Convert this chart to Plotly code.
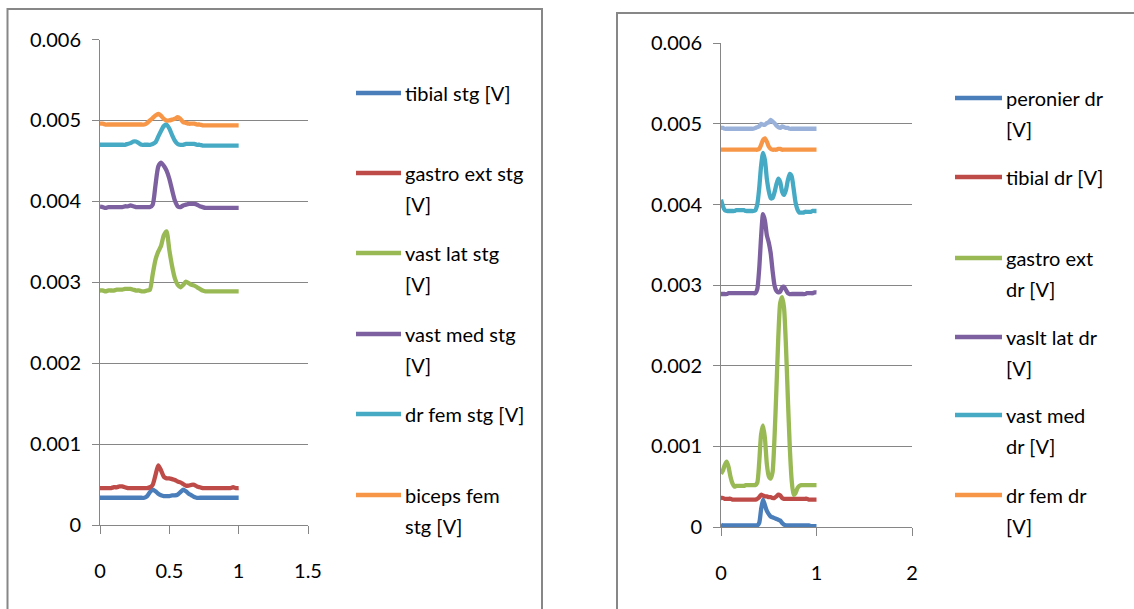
import plotly.graph_objects as go

# ---------------- data ----------------
x = [0.00, 0.02, 0.04, 0.06, 0.08, 0.10, 0.12, 0.14, 0.16, 0.18,
     0.20, 0.22, 0.24, 0.26, 0.28, 0.30, 0.32, 0.34, 0.36, 0.38,
     0.40, 0.42, 0.44, 0.46, 0.48, 0.50, 0.52, 0.54, 0.56, 0.58,
     0.60, 0.62, 0.64, 0.66, 0.68, 0.70, 0.72, 0.74, 0.76, 0.78,
     0.80, 0.82, 0.84, 0.86, 0.88, 0.90, 0.92, 0.94, 0.96, 0.98, 1.00]

# left chart (stg)
tibial_stg = [0.00034, 0.00034, 0.00034, 0.00034, 0.00034, 0.00034, 0.00034, 0.00034, 0.00034, 0.00034,
              0.00034, 0.00034, 0.00034, 0.00034, 0.00034, 0.00034, 0.00034, 0.00036, 0.00041, 0.00044,
              0.00042, 0.00039, 0.00037, 0.00036, 0.00036, 0.00036, 0.00037, 0.00037, 0.00038, 0.00041,
              0.00044, 0.00042, 0.00039, 0.00037, 0.00035, 0.00034, 0.00034, 0.00034, 0.00034, 0.00034,
              0.00034, 0.00034, 0.00034, 0.00034, 0.00034, 0.00034, 0.00034, 0.00034, 0.00034, 0.00034, 0.00034]
gastro_ext_stg = [0.00046, 0.00046, 0.00046, 0.00046, 0.00046, 0.00047, 0.00047, 0.00048, 0.00048, 0.00047,
                  0.00046, 0.00046, 0.00046, 0.00046, 0.00046, 0.00046, 0.00046, 0.00046, 0.00047, 0.00050,
                  0.00062, 0.00074, 0.00068, 0.00060, 0.00058, 0.00058, 0.00057, 0.00056, 0.00054, 0.00053,
                  0.00051, 0.00049, 0.00049, 0.00050, 0.00050, 0.00048, 0.00047, 0.00046, 0.00046, 0.00046,
                  0.00046, 0.00046, 0.00046, 0.00046, 0.00046, 0.00046, 0.00046, 0.00046, 0.00047, 0.00046, 0.00046]
vast_lat_stg = [0.00290, 0.00290, 0.00289, 0.00290, 0.00290, 0.00290, 0.00291, 0.00291, 0.00291, 0.00292,
                0.00292, 0.00292, 0.00291, 0.00290, 0.00290, 0.00289, 0.00289, 0.00290, 0.00291, 0.00310,
                0.00328, 0.00338, 0.00345, 0.00358, 0.00363, 0.00340, 0.00320, 0.00305, 0.00297, 0.00294,
                0.00297, 0.00301, 0.00299, 0.00297, 0.00296, 0.00294, 0.00292, 0.00290, 0.00289, 0.00289,
                0.00289, 0.00289, 0.00289, 0.00289, 0.00289, 0.00289, 0.00289, 0.00289, 0.00289, 0.00289, 0.00289]
vast_med_stg = [0.003935, 0.00393, 0.00392, 0.00393, 0.00393, 0.00393, 0.00393, 0.00393, 0.00393, 0.00394,
                0.00394, 0.00395, 0.00394, 0.00393, 0.00393, 0.00393, 0.00393, 0.00393, 0.00393, 0.00396,
                0.00420, 0.00443, 0.00448, 0.00444, 0.00438, 0.00428, 0.00414, 0.00401, 0.00394, 0.00393,
                0.00395, 0.00396, 0.00397, 0.00397, 0.00397, 0.00396, 0.00394, 0.00393, 0.00392, 0.00392,
                0.00392, 0.00392, 0.00392, 0.00392, 0.00392, 0.00392, 0.00392, 0.00392, 0.00392, 0.00392, 0.00392]
dr_fem_stg = [0.00470, 0.00470, 0.00470, 0.00470, 0.00470, 0.00470, 0.00470, 0.00470, 0.00470, 0.00470,
              0.00471, 0.00472, 0.00474, 0.00474, 0.00472, 0.00470, 0.00470, 0.00470, 0.00470, 0.00471,
              0.00473, 0.00480, 0.00487, 0.00493, 0.00495, 0.00490, 0.00482, 0.00475, 0.00471, 0.00470,
              0.00470, 0.00471, 0.00471, 0.00471, 0.00471, 0.00470, 0.00470, 0.00469, 0.00469, 0.00469,
              0.00469, 0.00469, 0.00469, 0.00469, 0.00469, 0.00469, 0.00469, 0.00469, 0.00469, 0.00469, 0.00469]
biceps_fem_stg = [0.00496, 0.00496, 0.00495, 0.00495, 0.00495, 0.00495, 0.00495, 0.00495, 0.00495, 0.00495,
                  0.00495, 0.00495, 0.00495, 0.00495, 0.00495, 0.00495, 0.00495, 0.00497, 0.00500, 0.00503,
                  0.00506, 0.00508, 0.00506, 0.00502, 0.00500, 0.00500, 0.00501, 0.00502, 0.00504, 0.00502,
                  0.00498, 0.00497, 0.00496, 0.00496, 0.00496, 0.00495, 0.00495, 0.00494, 0.00494, 0.00494,
                  0.00494, 0.00494, 0.00494, 0.00494, 0.00494, 0.00494, 0.00494, 0.00494, 0.00494, 0.00494, 0.00494]

# right chart (dr)
peronier_dr = [0.00003, 0.00002, 0.00002, 0.00002, 0.00002, 0.00002, 0.00002, 0.00002, 0.00002, 0.00002,
               0.00002, 0.00002, 0.00002, 0.00002, 0.00002, 0.00002, 0.00002, 0.00002, 0.00002, 0.00002,
               0.00005, 0.00022, 0.00034, 0.00027, 0.00020, 0.00016, 0.00013, 0.00012, 0.00011, 0.00010,
               0.00009, 0.00008, 0.00005, 0.00003, 0.00002, 0.00002, 0.00002, 0.00002, 0.00002, 0.00002,
               0.00002, 0.00002, 0.00002, 0.00002, 0.00002, 0.00002, 0.00002, 0.00001, 0.00001, 0.00001, 0.00001]
tibial_dr = [0.00036, 0.00036, 0.00035, 0.00035, 0.00035, 0.00035, 0.00034, 0.00034, 0.00034, 0.00034,
             0.00034, 0.00034, 0.00034, 0.00034, 0.00034, 0.00034, 0.00034, 0.00034, 0.00034, 0.00035,
             0.00037, 0.00040, 0.00039, 0.00038, 0.00038, 0.00037, 0.00037, 0.00036, 0.00036, 0.00038,
             0.00040, 0.00039, 0.00036, 0.00035, 0.00035, 0.00035, 0.00035, 0.00035, 0.00035, 0.00035,
             0.00035, 0.00035, 0.00035, 0.00035, 0.00035, 0.00035, 0.00034, 0.00034, 0.00034, 0.00034, 0.00034]
gastro_ext_dr = [0.00066, 0.00070, 0.00077, 0.00081, 0.00074, 0.00062, 0.00054, 0.00050, 0.00051, 0.00051,
                 0.00051, 0.00051, 0.00051, 0.00052, 0.00052, 0.00052, 0.00052, 0.00052, 0.00052, 0.00055,
                 0.00080, 0.00115, 0.00126, 0.00110, 0.00078, 0.00063, 0.00060, 0.00068, 0.00110, 0.00170,
                 0.00235, 0.00278, 0.00285, 0.00272, 0.00225, 0.00160, 0.00100, 0.00058, 0.00040, 0.00042,
                 0.00048, 0.00051, 0.00052, 0.00052, 0.00052, 0.00052, 0.00052, 0.00052, 0.00052, 0.00052, 0.00052]
vaslt_lat_dr = [0.00289, 0.00289, 0.00289, 0.00289, 0.00290, 0.00290, 0.00290, 0.00290, 0.00290, 0.00290,
                0.00290, 0.00290, 0.00290, 0.00290, 0.00290, 0.00290, 0.00290, 0.00290, 0.00290, 0.00295,
                0.00320, 0.00360, 0.00388, 0.00380, 0.00362, 0.00353, 0.00340, 0.00318, 0.00300, 0.00293,
                0.00291, 0.00292, 0.00297, 0.00298, 0.00294, 0.00290, 0.00289, 0.00289, 0.00289, 0.00289,
                0.00289, 0.00289, 0.00289, 0.00289, 0.00289, 0.00290, 0.00290, 0.00290, 0.00290, 0.00291, 0.00291]
vast_med_dr = [0.00406, 0.00398, 0.00393, 0.00392, 0.00392, 0.00392, 0.00392, 0.00392, 0.00393, 0.00393,
               0.00393, 0.00393, 0.00393, 0.00392, 0.00392, 0.00392, 0.00392, 0.00392, 0.00393, 0.00400,
               0.00420, 0.00448, 0.00464, 0.00455, 0.00432, 0.00417, 0.00408, 0.00408, 0.00415, 0.00425,
               0.00432, 0.00428, 0.00416, 0.00412, 0.00418, 0.00430, 0.00438, 0.00435, 0.00420, 0.00403,
               0.00394, 0.00390, 0.00390, 0.00390, 0.00391, 0.00391, 0.00391, 0.00391, 0.00392, 0.00392, 0.00392]
dr_fem_dr = [0.00468, 0.00468, 0.00468, 0.00468, 0.00468, 0.00468, 0.00468, 0.00468, 0.00468, 0.00468,
             0.00468, 0.00468, 0.00468, 0.00468, 0.00468, 0.00468, 0.00468, 0.00468, 0.00468, 0.00468,
             0.00469, 0.00474, 0.00480, 0.00482, 0.00478, 0.00472, 0.00469, 0.00468, 0.00468, 0.00468,
             0.00469, 0.00469, 0.00468, 0.00468, 0.00468, 0.00468, 0.00468, 0.00468, 0.00468, 0.00468,
             0.00468, 0.00468, 0.00468, 0.00468, 0.00468, 0.00468, 0.00468, 0.00468, 0.00468, 0.00468, 0.00468]
series7_dr = [0.00495, 0.00495, 0.00494, 0.00494, 0.00494, 0.00494, 0.00494, 0.00494, 0.00494, 0.00494,
              0.00494, 0.00494, 0.00494, 0.00494, 0.00494, 0.00494, 0.00494, 0.00494, 0.00495, 0.00496,
              0.00497, 0.00500, 0.00499, 0.00499, 0.00501, 0.00502, 0.00505, 0.00503, 0.00501, 0.00498,
              0.00496, 0.00495, 0.00497, 0.00496, 0.00495, 0.00495, 0.00494, 0.00494, 0.00494, 0.00494,
              0.00494, 0.00494, 0.00494, 0.00494, 0.00494, 0.00494, 0.00494, 0.00494, 0.00494, 0.00494, 0.00494]

left_names = ["tibial stg [V]", "gastro ext stg [V]", "vast lat stg [V]",
              "vast med stg [V]", "dr fem stg [V]", "biceps fem stg [V]"]
left_legend_lines = [["tibial stg [V]"], ["gastro ext stg", "[V]"], ["vast lat stg", "[V]"],
                     ["vast med stg", "[V]"], ["dr fem stg [V]"], ["biceps fem", "stg [V]"]]
right_names = ["peronier dr [V]", "tibial dr [V]", "gastro ext dr [V]",
               "vaslt lat dr [V]", "vast med dr [V]", "dr fem dr [V]"]
right_legend_lines = [["peronier dr", "[V]"], ["tibial dr [V]"], ["gastro ext", "dr [V]"],
                      ["vaslt lat dr", "[V]"], ["vast med", "dr [V]"], ["dr fem dr", "[V]"]]

y_tickvals = [0, 0.001, 0.002, 0.003, 0.004, 0.005, 0.006]
y_ticktext = ["0", "0.001", "0.002", "0.003", "0.004", "0.005", "0.006"]
left_x_tickvals = [0, 0.5, 1, 1.5]
left_x_ticktext = ["0", "0.5", "1", "1.5"]
right_x_tickvals = [0, 1, 2]
right_x_ticktext = ["0", "1", "2"]

# ---------------- styling ----------------
W, H = 1134, 609
colors = ["#4A7EBB", "#BE4B48", "#98B954", "#7D60A0", "#46AAC5", "#F79646"]
color7 = "#9AB2DA"
FONT = "Lato"
AX = "#868686"
LW = 4.3

def px(v):
    return v / W

def py(v):
    return 1 - v / H

fig = go.Figure()

left_series = [tibial_stg, gastro_ext_stg, vast_lat_stg, vast_med_stg, dr_fem_stg, biceps_fem_stg]
right_series = [peronier_dr, tibial_dr, gastro_ext_dr, vaslt_lat_dr, vast_med_dr, dr_fem_dr]

for name, ys, c in zip(left_names, left_series, colors):
    fig.add_trace(go.Scatter(x=x, y=ys, name=name, mode="lines",
                             line=dict(color=c, width=LW, shape="spline", smoothing=0.6),
                             xaxis="x", yaxis="y", showlegend=False))

fig.add_trace(go.Scatter(x=x, y=series7_dr, name="series 7", mode="lines",
                         line=dict(color=color7, width=LW, shape="spline", smoothing=0.6),
                         xaxis="x2", yaxis="y2", showlegend=False))
for name, ys, c in zip(right_names, right_series, colors):
    fig.add_trace(go.Scatter(x=x, y=ys, name=name, mode="lines",
                             line=dict(color=c, width=LW, shape="spline", smoothing=0.6),
                             xaxis="x2", yaxis="y2", showlegend=False))

axis_font = dict(family=FONT, size=20, color="#000000")
common_x = dict(showgrid=False, showline=True, linecolor=AX, linewidth=1,
                ticks="outside", ticklen=8, tickcolor=AX, tickfont=axis_font,
                ticklabelstandoff=20, zeroline=False, fixedrange=True, automargin=False)
common_y = dict(showgrid=True, gridcolor=AX, gridwidth=1, showline=True, linecolor=AX,
                linewidth=1, ticks="outside", ticklen=7, tickcolor=AX, tickfont=axis_font,
                ticklabelstandoff=7, zeroline=False, range=[0, 0.006],
                tickvals=y_tickvals, ticktext=y_ticktext, fixedrange=True, automargin=False)

fig.update_layout(
    template="none",
    width=W, height=H,
    margin=dict(l=0, r=0, t=0, b=0, autoexpand=False),
    paper_bgcolor="white", plot_bgcolor="white",
    showlegend=False,
    xaxis=dict(domain=[px(100), px(308)], range=[0, 1.5], anchor="y",
               tickvals=left_x_tickvals, ticktext=left_x_ticktext, **common_x),
    yaxis=dict(domain=[py(525.3), py(39.5)], anchor="x", **common_y),
    xaxis2=dict(domain=[px(721), px(912)], range=[0, 2], anchor="y2",
                tickvals=right_x_tickvals, ticktext=right_x_ticktext, **common_x),
    yaxis2=dict(domain=[py(527), py(43.3)], anchor="x2", **common_y),
)

# chart frames
fig.add_shape(type="rect", xref="paper", yref="paper",
              x0=px(7.5), x1=px(542), y0=py(640), y1=py(9),
              line=dict(color="#878787", width=2), fillcolor="rgba(0,0,0,0)")
fig.add_shape(type="rect", xref="paper", yref="paper",
              x0=px(617), x1=px(1160), y0=py(640), y1=py(13),
              line=dict(color="#878787", width=2), fillcolor="rgba(0,0,0,0)")

# legends
def add_legend(lines_list, x0, x1, xt, ys, line_gap):
    for lines, c, y0 in zip(lines_list, colors, ys):
        fig.add_shape(type="line", xref="paper", yref="paper",
                      x0=px(x0), x1=px(x1), y0=py(y0), y1=py(y0),
                      line=dict(color=c, width=4.5))
        for k, t in enumerate(lines):
            fig.add_annotation(xref="paper", yref="paper", x=px(xt), y=py(y0 + k * line_gap),
                               text=t, showarrow=False, xanchor="left", yanchor="middle",
                               font=dict(family=FONT, size=20, color="#000000"))

add_legend(left_legend_lines, 356, 401, 403, [93, 173, 253, 334, 414, 495], 31)
add_legend(right_legend_lines, 955, 1002, 1004, [98, 177, 258, 337, 415, 495], 31)

fig.write_html("out.html")
